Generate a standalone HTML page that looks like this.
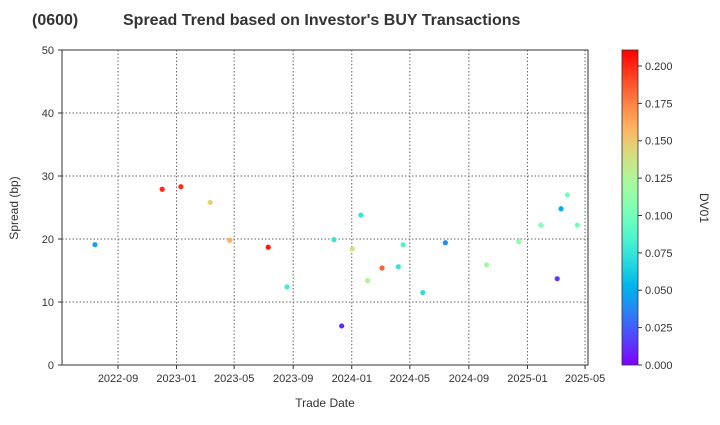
<!DOCTYPE html>
<html><head><meta charset="utf-8"><style>
body{margin:0;background:#fff;}
svg text{font-family:"Liberation Sans",Arial,sans-serif;fill:#333;}
</style></head><body>
<svg id="c" width="720" height="420" xmlns="http://www.w3.org/2000/svg">
<defs><linearGradient id="cb" x1="0" y1="1" x2="0" y2="0"></linearGradient></defs>
<text y="25" font-size="16" font-weight="bold"><tspan x="32">(0600)</tspan><tspan x="123">Spread Trend based on Investor's BUY Transactions</tspan></text>
<g id="grid"></g><g id="pts"></g><g id="axes"></g>
<text transform="translate(18,208) rotate(-90)" font-size="12" text-anchor="middle">Spread (bp)</text>
<text x="325" y="407" font-size="12" text-anchor="middle">Trade Date</text>
<rect x="622" y="50" width="16" height="315" fill="url(#cb)" stroke="#333" stroke-width="0.8"/>
<g id="cbt"></g>
<text transform="translate(700,208) rotate(90)" font-size="12" text-anchor="middle">DV01</text>
</svg>
<script>
const dates=["2022-07-15","2022-12-02","2023-01-10","2023-03-12","2023-04-22","2023-07-11","2023-08-19","2023-11-25","2023-12-11","2024-01-02","2024-01-20","2024-02-03","2024-03-04","2024-04-07","2024-04-17","2024-05-28","2024-07-14","2024-10-08","2024-12-14","2025-01-29","2025-03-04","2025-03-12","2025-03-25","2025-04-15"];
const spreads=[19.1,27.9,28.3,25.8,19.8,18.7,12.4,19.9,6.2,18.4,23.8,13.4,15.4,15.6,19.1,11.5,19.4,15.9,19.6,22.2,13.7,24.8,27.0,22.2];
const dv01=[0.045,0.2,0.2,0.145,0.16,0.205,0.08,0.075,0.01,0.14,0.075,0.125,0.185,0.075,0.085,0.07,0.04,0.12,0.115,0.105,0.015,0.05,0.1,0.1];
const xTicks=["2022-09","2023-01","2023-05","2023-09","2024-01","2024-05","2024-09","2025-01","2025-05"];
const yTicks=[0,10,20,30,40,50];
const cTicks=[0,0.025,0.05,0.075,0.1,0.125,0.15,0.175,0.2];
const NS="http://www.w3.org/2000/svg";
const L=62,R=588,T=50,B=365,CMAX=0.2107;
const t0=Date.UTC(2022,8,1),day=86400000;
function tx(s){const p=s.split("-");return Date.UTC(+p[0],+p[1]-1,+(p[2]||1));}
function xs(s){return 118+(tx(s)-t0)/day*0.48;}
function ys(v){return B-(v/50)*(B-T);}
function cs(v){return B-(v/CMAX)*(B-T);}
function rb(x){const r=Math.min(1,Math.abs(2*x-0.5)),g=Math.sin(Math.PI*x),b=Math.cos(Math.PI*x/2);return `rgb(${Math.round(r*255)},${Math.round(g*255)},${Math.round(b*255)})`;}
function mk(tag,at,par){const e=document.createElementNS(NS,tag);for(const k in at)e.setAttribute(k,at[k]);document.getElementById(par).appendChild(e);return e;}
xTicks.forEach(t=>{const x=xs(t);
const g=mk("line",{x1:x,x2:x,y1:T,y2:B,stroke:"#666","stroke-dasharray":"1.5,2","stroke-width":1},"grid");


const k=mk("line",{x1:x,x2:x,y1:B,y2:B+4,stroke:"#333"},"axes");


const l=mk("text",{x:x,y:B+17,"font-size":11,"text-anchor":"middle"},"axes");l.textContent=t;

});
yTicks.forEach(v=>{const y=ys(v);
if(v>0&&v<50){const g=mk("line",{x1:L,x2:R,y1:y,y2:y,stroke:"#666","stroke-dasharray":"1.5,2","stroke-width":1},"grid");

}
const k=mk("line",{x1:L-4,x2:L,y1:y,y2:y,stroke:"#333"},"axes");


const l=mk("text",{x:L-8,y:y+4,"font-size":11,"text-anchor":"end"},"axes");l.textContent=v;

});
const fr=mk("rect",{x:L,y:T,width:R-L,height:B-T,fill:"none",stroke:"#333","stroke-width":1},"axes");


dates.forEach((d,i)=>{const c=mk("circle",{cx:xs(d),cy:ys(spreads[i]),r:2.6,fill:rb(dv01[i]/CMAX)},"pts");

});
const gr=document.getElementById("cb");
for(let i=0;i<=20;i++){const s=document.createElementNS(NS,"stop");s.setAttribute("offset",i/20);s.setAttribute("stop-color",rb(i/20));gr.appendChild(s);}
cTicks.forEach(v=>{const y=cs(v);
const k=mk("line",{x1:638,x2:642,y1:y,y2:y,stroke:"#333"},"cbt");


const l=mk("text",{x:645,y:y+4,"font-size":11},"cbt");l.textContent=v.toFixed(3);

});
</script>
</body></html>
